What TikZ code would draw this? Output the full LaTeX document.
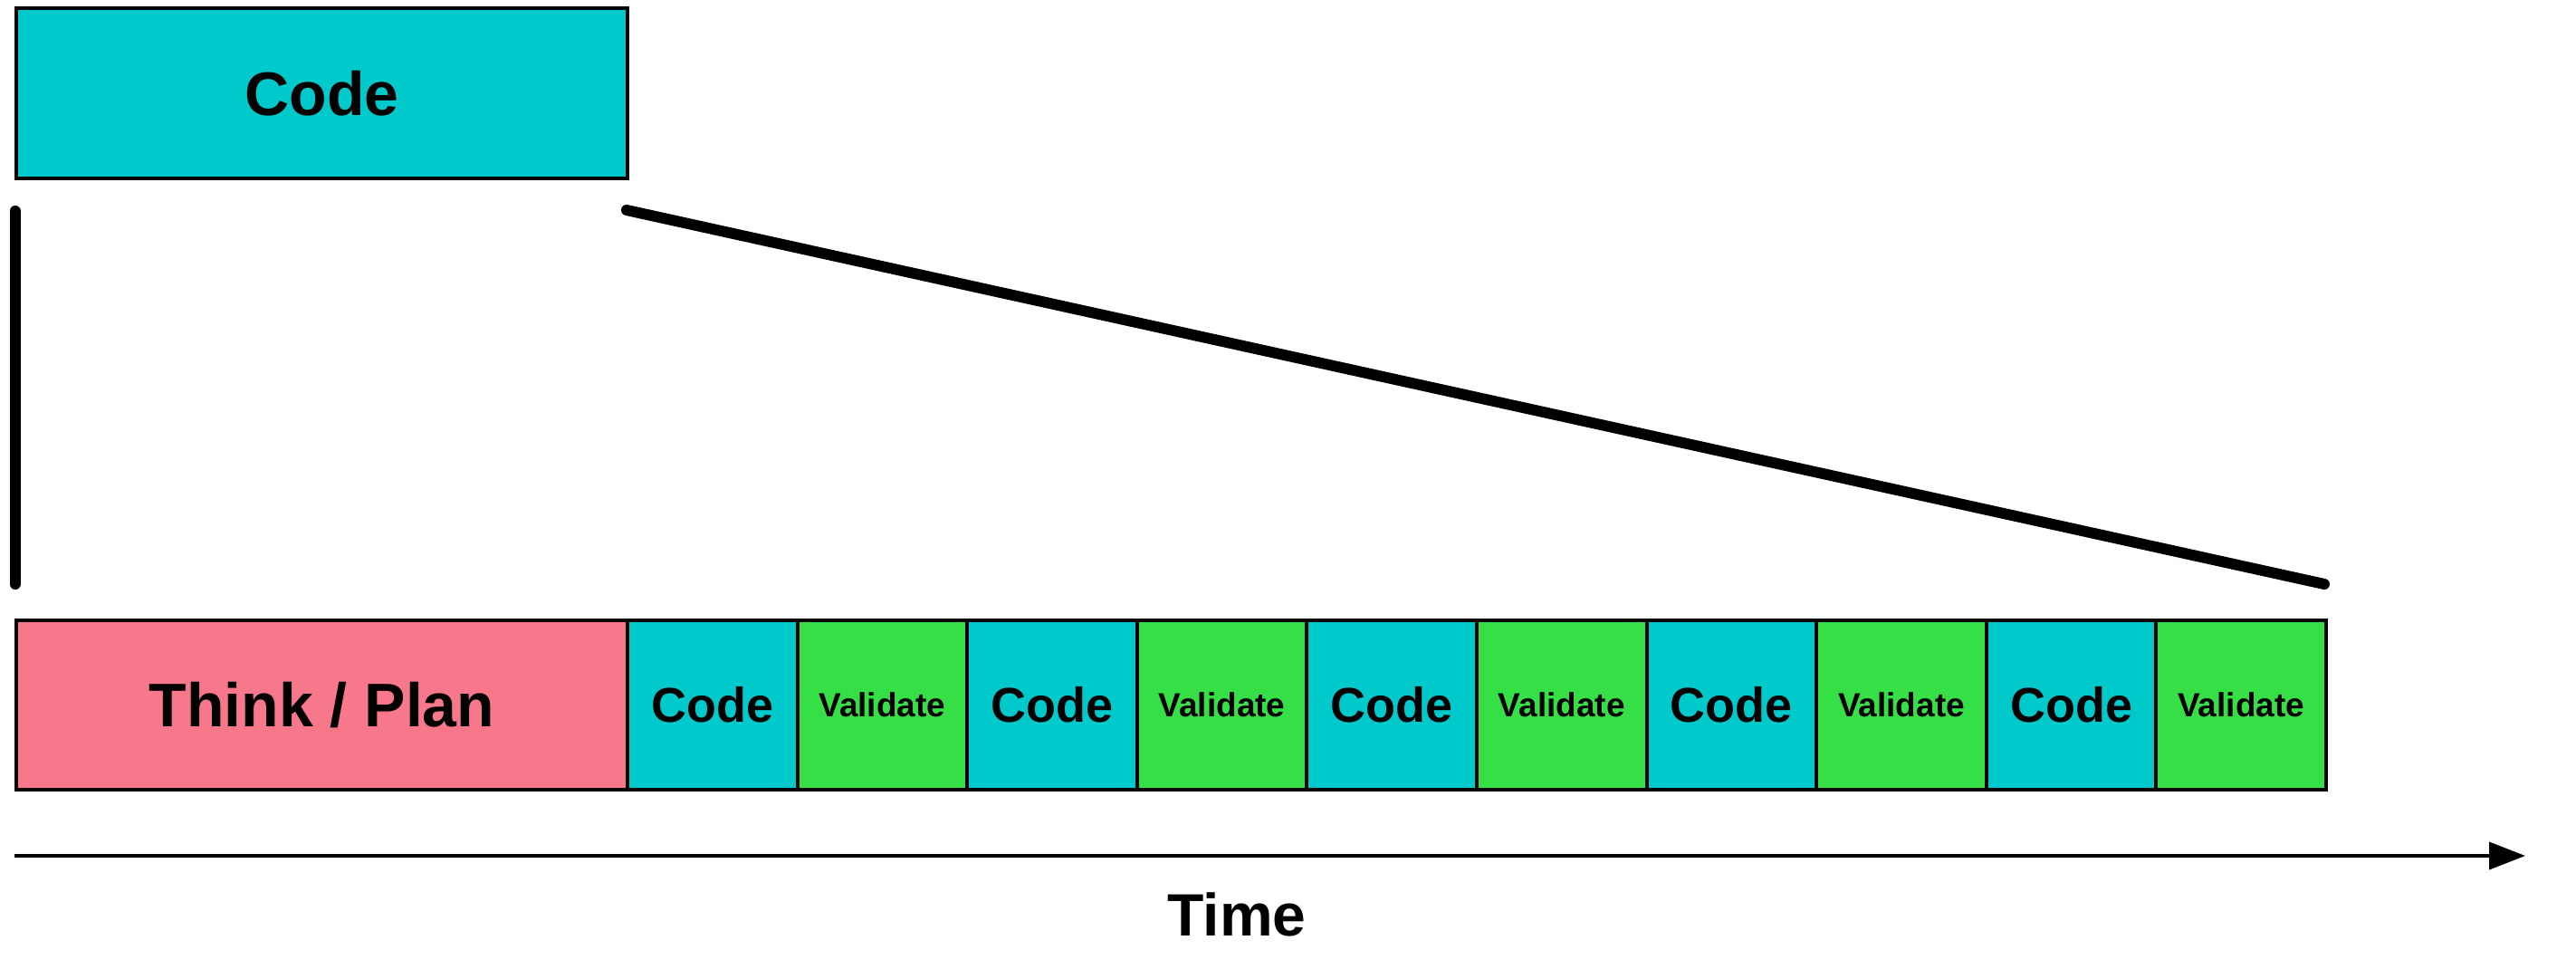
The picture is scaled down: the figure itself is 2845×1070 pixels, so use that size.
\documentclass[tikz,border=0pt]{standalone}
\usepackage{fontspec}
\setmainfont{Liberation Sans}
\usetikzlibrary{arrows.meta}
\definecolor{cyanbox}{RGB}{0,201,203}
\definecolor{pinkbox}{RGB}{247,120,138}
\definecolor{greenbox}{RGB}{55,223,70}
\begin{document}
\begin{tikzpicture}[x=1pt,y=-1pt,
  cell/.style={draw=black, line width=4pt, inner sep=0pt, anchor=north west,
    minimum height=187pt, font=\bfseries},
  codecell/.style={cell, fill=cyanbox, minimum width=187.6pt, font=\bfseries\fontsize{54}{60}\selectfont},
  valcell/.style={cell, fill=greenbox, minimum width=187.6pt, font=\bfseries\fontsize{37}{42}\selectfont},
  bigcell/.style={cell, minimum width=675pt, font=\bfseries\fontsize{68}{80}\selectfont},
  zoomline/.style={line width=12pt, line cap=round}]
\useasboundingbox (0,0) rectangle (2845,1070);
\node[bigcell, fill=cyanbox, minimum height=188pt] (top) at (16,7) {Code};
\node[bigcell, fill=pinkbox] (think) at (16,683) {Think / Plan};
\foreach \i in {0,2,4,6,8} {
  \node[codecell] (c\i) at ({691+\i*187.6},683) {Code};
}
\foreach \i in {1,3,5,7,9} {
  \node[valcell] (c\i) at ({691+\i*187.6},683) {Validate};
}
\coordinate (va) at (16.5,233);
\coordinate (vb) at (16.5,645);
\coordinate (da) at (692,232);
\coordinate (db) at (2567,645);
\draw[zoomline] (va) -- (vb);
\draw[zoomline] (da) -- (db);
\coordinate (ta) at (16,945);
\coordinate (tb) at (2789,945);
\draw[line width=4pt, -{Triangle[length=40pt,width=30pt]}] (ta) -- (tb);
\node[font=\bfseries\fontsize{66}{75}\selectfont] (time) at (1366,1010) {Time};
\end{tikzpicture}
\end{document}
